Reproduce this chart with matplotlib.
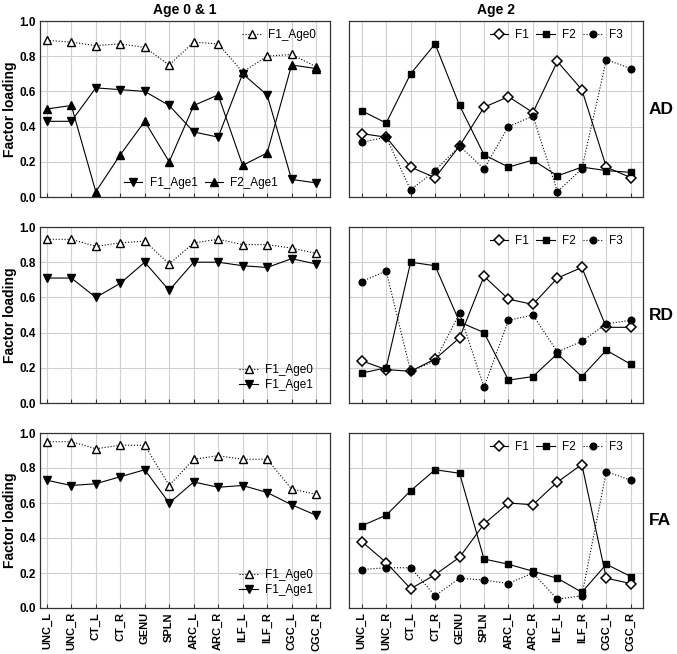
import matplotlib
matplotlib.use("Agg")
import matplotlib.pyplot as plt

plt.rcParams['font.family'] = ['Liberation Sans', 'DejaVu Sans']

categories = ["UNC_L", "UNC_R", "CT_L", "CT_R", "GENU", "SPLN",
              "ARC_L", "ARC_R", "ILF_L", "ILF_R", "CGC_L", "CGC_R"]
y_ticks = [0.0, 0.2, 0.4, 0.6, 0.8, 1.0]
row_labels = ["AD", "RD", "FA"]

# AD
ad_f1_age0 = [0.89, 0.88, 0.86, 0.87, 0.85, 0.75, 0.88, 0.87, 0.71, 0.80, 0.81, 0.74]
ad_f1_age1 = [0.43, 0.43, 0.62, 0.61, 0.60, 0.52, 0.37, 0.34, 0.70, 0.58, 0.10, 0.08]
ad_f2_age1 = [0.50, 0.52, 0.03, 0.24, 0.43, 0.20, 0.52, 0.58, 0.18, 0.25, 0.75, 0.73]
ad_f1 = [0.36, 0.34, 0.17, 0.11, 0.29, 0.51, 0.57, 0.48, 0.77, 0.61, 0.17, 0.11]
ad_f2 = [0.49, 0.42, 0.70, 0.87, 0.52, 0.24, 0.17, 0.21, 0.12, 0.17, 0.15, 0.14]
ad_f3 = [0.31, 0.34, 0.04, 0.15, 0.29, 0.16, 0.40, 0.46, 0.03, 0.16, 0.78, 0.73]

# RD
rd_f1_age0 = [0.93, 0.93, 0.89, 0.91, 0.92, 0.79, 0.91, 0.93, 0.90, 0.90, 0.88, 0.85]
rd_f1_age1 = [0.71, 0.71, 0.60, 0.68, 0.80, 0.64, 0.80, 0.80, 0.78, 0.77, 0.82, 0.79]
rd_f1 = [0.24, 0.19, 0.18, 0.25, 0.37, 0.72, 0.59, 0.56, 0.71, 0.77, 0.43, 0.43]
rd_f2 = [0.17, 0.20, 0.80, 0.78, 0.46, 0.40, 0.13, 0.15, 0.28, 0.15, 0.30, 0.22]
rd_f3 = [0.69, 0.75, 0.18, 0.24, 0.51, 0.09, 0.47, 0.50, 0.29, 0.35, 0.45, 0.47]

# FA
fa_f1_age0 = [0.95, 0.95, 0.91, 0.93, 0.93, 0.70, 0.85, 0.87, 0.85, 0.85, 0.68, 0.65]
fa_f1_age1 = [0.73, 0.70, 0.71, 0.75, 0.79, 0.60, 0.72, 0.69, 0.70, 0.66, 0.59, 0.53]
fa_f1 = [0.38, 0.26, 0.11, 0.19, 0.29, 0.48, 0.60, 0.59, 0.72, 0.82, 0.17, 0.14]
fa_f2 = [0.47, 0.53, 0.67, 0.79, 0.77, 0.28, 0.25, 0.21, 0.17, 0.09, 0.25, 0.18]
fa_f3 = [0.22, 0.23, 0.23, 0.07, 0.17, 0.16, 0.14, 0.20, 0.05, 0.07, 0.78, 0.73]

fig = plt.figure(figsize=(6.77, 6.54), dpi=100)
W, H = 677, 654

def add_ax(x0, y0, x1, y1):
    return fig.add_axes([x0 / W, 1 - y1 / H, (x1 - x0) / W, (y1 - y0) / H])

rows_y = [(21, 197), (227, 403), (433, 608)]
x = list(range(len(categories)))

def style(ax, left):
    ax.set_ylim(0, 1.0)
    if left:
        ax.set_xlim(-0.28, 11.57)
    else:
        ax.set_xlim(-0.52, 11.5)
    ax.set_xticks(x)
    ax.set_yticks(y_ticks)
    ax.grid(True, color='#d0d0d0', linewidth=0.8)
    ax.set_axisbelow(True)
    for s in ax.spines.values():
        s.set_color('#333333')
        s.set_linewidth(0.9)
    ax.tick_params(axis='x', direction='in', length=3, color='#333333', pad=3)
    ax.tick_params(axis='y', direction='in', length=0, pad=3)
    if left:
        ax.set_yticklabels([f"{v:.1f}" for v in y_ticks], fontsize=8.5, fontweight='bold')
        ax.set_ylabel("Factor loading", fontsize=10, fontweight='bold', labelpad=2)
    else:
        ax.set_yticklabels([])

ms = 5.2
common = dict(color='black', linewidth=0.8, markersize=ms)
open_tri = dict(marker='^', markerfacecolor='white', markeredgecolor='black', markeredgewidth=1.0, linestyle=':')
down_tri = dict(marker='v', markerfacecolor='black', linestyle='-')
up_tri = dict(marker='^', markerfacecolor='black', linestyle='-')
diam = dict(marker='D', markerfacecolor='white', markeredgecolor='black', markeredgewidth=1.1, linestyle='-', markersize=4.8)
sq = dict(marker='s', markerfacecolor='black', linestyle='-', markersize=4.8)
circ = dict(marker='o', markerfacecolor='black', linestyle=':', markersize=4.8)

leg_kw = dict(frameon=False, fontsize=8.5, handlelength=1.6, handletextpad=0.6,
              borderaxespad=0.3, columnspacing=0.6)

left_data = [
    (ad_f1_age0, ad_f1_age1, ad_f2_age1),
    (rd_f1_age0, rd_f1_age1, None),
    (fa_f1_age0, fa_f1_age1, None),
]
right_data = [
    (ad_f1, ad_f2, ad_f3),
    (rd_f1, rd_f2, rd_f3),
    (fa_f1, fa_f2, fa_f3),
]

for i, (y0, y1) in enumerate(rows_y):
    axl = add_ax(40, y0, 330, y1)
    style(axl, True)
    a0, a1, a2 = left_data[i]
    l0, = axl.plot(x, a0, label="F1_Age0", **common, **open_tri)
    l1, = axl.plot(x, a1, label="F1_Age1", **common, **down_tri)
    if a2 is not None:
        l2, = axl.plot(x, a2, label="F2_Age1", **common, **up_tri)
        lg1 = axl.legend(handles=[l0], loc='upper right', bbox_to_anchor=(0.98, 1.0), **leg_kw)
        axl.add_artist(lg1)
        axl.legend(handles=[l1, l2], loc='lower right', ncol=2,
                   bbox_to_anchor=(0.85, 0.0), **leg_kw)
    else:
        axl.legend(handles=[l0, l1], loc='lower right', labelspacing=0.3,
                   bbox_to_anchor=(0.97, 0.02), **leg_kw)

    axr = add_ax(349, y0, 643, y1)
    style(axr, False)
    r1, r2, r3 = right_data[i]
    h1, = axr.plot(x, r1, label="F1", **{**common, **diam})
    h2, = axr.plot(x, r2, label="F2", **{**common, **sq})
    h3, = axr.plot(x, r3, label="F3", **{**common, **circ})
    axr.legend(handles=[h1, h2, h3], loc='upper right', ncol=3,
               bbox_to_anchor=(0.96, 1.0),
               **{**leg_kw, 'handlelength': 1.6, 'handletextpad': 0.6, 'columnspacing': 0.6})
    axr.text(1.02, 0.5, row_labels[i], transform=axr.transAxes,
             fontsize=12.5, fontweight='bold', ha='left', va='center')

    if i == 0:
        axl.set_title("Age 0 & 1", fontsize=10, fontweight='bold', pad=5)
        axr.set_title("Age 2", fontsize=10, fontweight='bold', pad=5)

    if i == 2:
        for ax in (axl, axr):
            ax.set_xticklabels(categories, rotation=90, fontsize=8, fontweight='bold')
    else:
        for ax in (axl, axr):
            ax.set_xticklabels([])

fig.savefig("out.png", dpi=100)
